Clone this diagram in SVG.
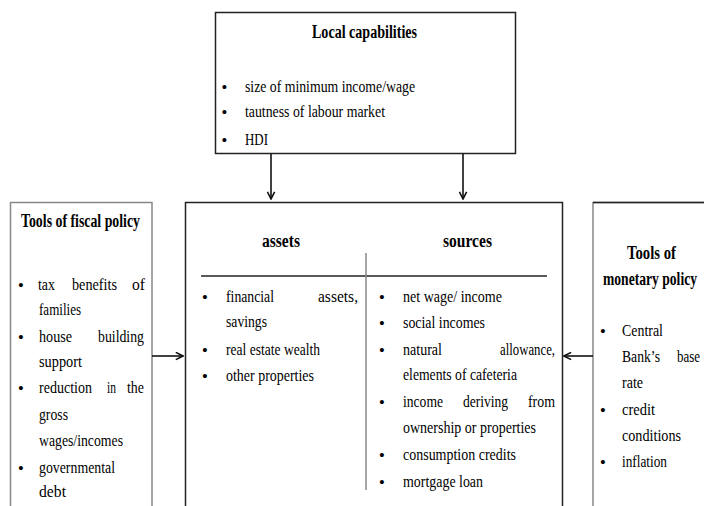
<svg xmlns="http://www.w3.org/2000/svg" width="704" height="506" viewBox="0 0 704 506">
<defs>
<style>
.t{font-family:"Liberation Serif","Times New Roman",serif;font-size:17.5px;fill:#000}
.h{font-weight:bold;font-size:18.5px}
.bu{font-family:"Liberation Serif","Times New Roman",serif;font-size:15px;font-weight:bold;fill:#000;text-anchor:middle}
.box{fill:#fff;stroke:#222;stroke-width:1.5}
.side{fill:#fff;stroke:#888;stroke-width:1.5}
.conn{stroke:#111;stroke-width:1.6;fill:none}
</style>
<marker id="ah" viewBox="0 0 10 10" refX="9" refY="5" markerWidth="9" markerHeight="9" markerUnits="userSpaceOnUse" orient="auto">
<path d="M1,1 L9,5 L1,9" fill="none" stroke="#111" stroke-width="1.8"/>
</marker>
</defs>
<rect width="704" height="506" fill="#fff"/>

<g id="local-capabilities">
<rect class="box" x="215.5" y="12.5" width="300" height="141"/>
<text class="t h" x="312" y="38" textLength="105" lengthAdjust="spacingAndGlyphs">Local capabilities</text>
<text class="bu" x="224.5" y="92">•</text>
<text class="t" x="245" y="92" textLength="170" lengthAdjust="spacingAndGlyphs">size of minimum  income/wage</text>
<text class="bu" x="224.5" y="117">•</text>
<text class="t" x="245" y="117" textLength="140" lengthAdjust="spacingAndGlyphs">tautness of labour market</text>
<text class="bu" x="224.5" y="145">•</text>
<text class="t" x="245" y="145" textLength="23" lengthAdjust="spacingAndGlyphs">HDI</text>
</g>

<g id="fiscal-policy">
<rect class="side" x="10.5" y="202.5" width="141.5" height="320"/>
<text class="t h" x="21" y="227" textLength="119" lengthAdjust="spacingAndGlyphs">Tools of fiscal policy</text>
<text class="bu" x="21" y="290">•</text>
<text class="t" x="38" y="290" textLength="17" lengthAdjust="spacingAndGlyphs">tax</text>
<text class="t" x="72" y="290" textLength="45" lengthAdjust="spacingAndGlyphs">benefits</text>
<text class="t" x="132" y="290" textLength="13" lengthAdjust="spacingAndGlyphs">of</text>
<text class="t" x="39" y="315" textLength="42" lengthAdjust="spacingAndGlyphs">families</text>
<text class="bu" x="21" y="342">•</text>
<text class="t" x="39" y="342" textLength="33" lengthAdjust="spacingAndGlyphs">house</text>
<text class="t" x="98" y="342" textLength="46" lengthAdjust="spacingAndGlyphs">building</text>
<text class="t" x="39" y="367" textLength="43" lengthAdjust="spacingAndGlyphs">support</text>
<text class="bu" x="21" y="393">•</text>
<text class="t" x="39" y="393" textLength="53" lengthAdjust="spacingAndGlyphs">reduction</text>
<text class="t" x="107" y="393" textLength="9" lengthAdjust="spacingAndGlyphs">in</text>
<text class="t" x="127" y="393" textLength="17" lengthAdjust="spacingAndGlyphs">the</text>
<text class="t" x="39" y="420" textLength="29" lengthAdjust="spacingAndGlyphs">gross</text>
<text class="t" x="39" y="446" textLength="84" lengthAdjust="spacingAndGlyphs">wages/incomes</text>
<text class="bu" x="21" y="473">•</text>
<text class="t" x="39" y="473" textLength="76" lengthAdjust="spacingAndGlyphs">governmental</text>
<text class="t" x="39" y="497" textLength="27" lengthAdjust="spacingAndGlyphs">debt</text>
</g>

<g id="assets-sources">
<rect class="box" x="185.5" y="202.5" width="377" height="320"/>
<text class="t h" x="262" y="247" textLength="38" lengthAdjust="spacingAndGlyphs">assets</text>
<text class="t h" x="443" y="247" textLength="49" lengthAdjust="spacingAndGlyphs">sources</text>
<line x1="201" y1="276" x2="547" y2="276" stroke="#222" stroke-width="1.5"/>
<line x1="366" y1="253" x2="366" y2="490" stroke="#888" stroke-width="1.5"/>
<text class="bu" x="205" y="302">•</text>
<text class="t" x="226" y="302" textLength="48" lengthAdjust="spacingAndGlyphs">financial</text>
<text class="t" x="318" y="302" textLength="40" lengthAdjust="spacingAndGlyphs">assets,</text>
<text class="t" x="226" y="327" textLength="41" lengthAdjust="spacingAndGlyphs">savings</text>
<text class="bu" x="205" y="355">•</text>
<text class="t" x="226" y="355" textLength="94" lengthAdjust="spacingAndGlyphs">real estate wealth</text>
<text class="bu" x="205" y="381">•</text>
<text class="t" x="226" y="381" textLength="88" lengthAdjust="spacingAndGlyphs">other properties</text>
<text class="bu" x="382" y="302">•</text>
<text class="t" x="403" y="302" textLength="99" lengthAdjust="spacingAndGlyphs">net wage/ income</text>
<text class="bu" x="382" y="328">•</text>
<text class="t" x="403" y="328" textLength="82" lengthAdjust="spacingAndGlyphs">social incomes</text>
<text class="bu" x="382" y="355">•</text>
<text class="t" x="403" y="355" textLength="39" lengthAdjust="spacingAndGlyphs">natural</text>
<text class="t" x="500" y="355" textLength="55" lengthAdjust="spacingAndGlyphs">allowance,</text>
<text class="t" x="403" y="380" textLength="114" lengthAdjust="spacingAndGlyphs">elements of cafeteria</text>
<text class="bu" x="382" y="407">•</text>
<text class="t" x="403" y="407" textLength="40" lengthAdjust="spacingAndGlyphs">income</text>
<text class="t" x="463" y="407" textLength="45" lengthAdjust="spacingAndGlyphs">deriving</text>
<text class="t" x="528" y="407" textLength="27" lengthAdjust="spacingAndGlyphs">from</text>
<text class="t" x="403" y="433" textLength="133" lengthAdjust="spacingAndGlyphs">ownership or properties</text>
<text class="bu" x="382" y="460">•</text>
<text class="t" x="403" y="460" textLength="113" lengthAdjust="spacingAndGlyphs">consumption credits</text>
<text class="bu" x="382" y="487">•</text>
<text class="t" x="403" y="487" textLength="80" lengthAdjust="spacingAndGlyphs">mortgage loan</text>
</g>

<g id="monetary-policy">
<rect class="side" x="593" y="202.5" width="130" height="320"/>
<line x1="593" y1="202.5" x2="704" y2="202.5" stroke="#222" stroke-width="1.5"/>
<text class="t h" x="627" y="259" textLength="49" lengthAdjust="spacingAndGlyphs">Tools of</text>
<text class="t h" x="603" y="285" textLength="94" lengthAdjust="spacingAndGlyphs">monetary policy</text>
<text class="bu" x="603" y="336">•</text>
<text class="t" x="622" y="336" textLength="41" lengthAdjust="spacingAndGlyphs">Central</text>
<text class="t" x="622" y="362" textLength="38" lengthAdjust="spacingAndGlyphs">Bank’s</text>
<text class="t" x="677" y="362" textLength="23" lengthAdjust="spacingAndGlyphs">base</text>
<text class="t" x="622" y="388" textLength="21" lengthAdjust="spacingAndGlyphs">rate</text>
<text class="bu" x="603" y="415">•</text>
<text class="t" x="622" y="415" textLength="33" lengthAdjust="spacingAndGlyphs">credit</text>
<text class="t" x="622" y="441" textLength="59" lengthAdjust="spacingAndGlyphs">conditions</text>
<text class="bu" x="603" y="467">•</text>
<text class="t" x="622" y="467" textLength="45" lengthAdjust="spacingAndGlyphs">inflation</text>
</g>

<g id="connectors">
<line class="conn" x1="271" y1="154" x2="271" y2="199" marker-end="url(#ah)"/>
<line class="conn" x1="463" y1="154" x2="463" y2="199" marker-end="url(#ah)"/>
<line class="conn" x1="152" y1="356" x2="183" y2="356" marker-end="url(#ah)"/>
<line class="conn" x1="593" y1="356" x2="564" y2="356" marker-end="url(#ah)"/>
</g>
</svg>
